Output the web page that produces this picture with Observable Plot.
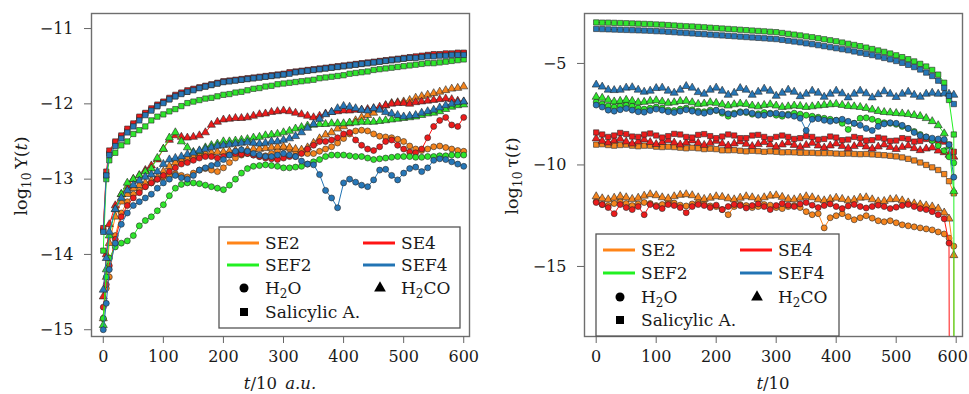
<!DOCTYPE html>
<html><head><meta charset="utf-8">
<script src="https://cdn.jsdelivr.net/npm/d3@7"></script>
<script src="https://cdn.jsdelivr.net/npm/@observablehq/plot@0.6"></script>
<style>
body{margin:0;background:#fff;}
#wrap{display:flex;width:969px;height:394px;overflow:hidden;}
svg text{font-family:"DejaVu Serif",serif;}
</style></head><body><div id="wrap"></div>
<script>
// ---------- categories / ticks ----------
const methods = ["SE2","SE4","SEF2","SEF4"];
const molecules = ["H2O","H2CO","Sal"];
const xTicks = [0,100,200,300,400,500,600];
const yTicksL = [-15,-14,-13,-12,-11];
const yTicksR = [-15,-10,-5];
const OFF = -40; // log10 of vanishing value (lines running off the bottom)

// time grids
const tL = [0,5,10,20,30,40,50,60,70,80,
  90,100,110,120,130,140,150,160,170,180,
  190,200,210,220,230,240,250,260,270,280,
  290,300,310,320,330,340,350,360,370,380,
  390,400,410,420,430,440,450,460,470,480,
  490,500,510,520,530,540,550,560,570,580,
  590,600];
const tR = [0,10,20,30,40,50,60,70,80,90,
  100,110,120,130,140,150,160,170,180,190,
  200,210,220,230,240,250,260,270,280,290,
  300,310,320,330,340,350,360,370,380,390,
  400,410,420,430,440,450,460,470,480,490,
  500,510,520,530,540,550,560,570,580,588,596];

// ---------- LEFT panel: log10 Upsilon(t) ----------
const L_SE2_H2O = [-14.85,-14.45,-14.3,-13.75,-13.45,-13.3,-13.2,-13.15,-13.1,-13.05,
  -13.0,-12.97,-12.95,-12.93,-12.95,-12.97,-12.92,-12.88,-12.86,-12.88,
  -12.9,-12.85,-12.78,-12.72,-12.68,-12.66,-12.68,-12.7,-12.69,-12.66,
  -12.62,-12.58,-12.6,-12.63,-12.65,-12.66,-12.66,-12.63,-12.6,-12.57,
  -12.52,-12.46,-12.4,-12.36,-12.35,-12.36,-12.4,-12.43,-12.44,-12.45,
  -12.47,-12.5,-12.56,-12.6,-12.62,-12.6,-12.57,-12.56,-12.58,-12.6,
  -12.62,-12.63];
const L_SE2_H2CO = [-14.85,-14.3,-13.85,-13.5,-13.3,-13.2,-13.12,-13.08,-13.05,-13.02,
  -12.98,-12.9,-12.83,-12.78,-12.74,-12.72,-12.7,-12.68,-12.66,-12.65,
  -12.64,-12.64,-12.63,-12.62,-12.62,-12.61,-12.6,-12.6,-12.59,-12.58,
  -12.57,-12.57,-12.58,-12.6,-12.61,-12.58,-12.52,-12.46,-12.41,-12.38,
  -12.33,-12.3,-12.26,-12.22,-12.18,-12.15,-12.12,-12.07,-12.02,-11.99,
  -11.98,-11.97,-11.95,-11.92,-11.9,-11.88,-11.86,-11.84,-11.82,-11.8,
  -11.79,-11.77];
const L_SE2_Sal = [-13.68,-12.95,-12.66,-12.52,-12.44,-12.36,-12.28,-12.19,-12.13,-12.08,
  -12.03,-11.98,-11.94,-11.9,-11.86,-11.84,-11.81,-11.79,-11.77,-11.75,
  -11.73,-11.71,-11.7,-11.69,-11.68,-11.67,-11.66,-11.65,-11.64,-11.63,
  -11.62,-11.61,-11.59,-11.58,-11.57,-11.56,-11.55,-11.54,-11.53,-11.52,
  -11.51,-11.5,-11.49,-11.48,-11.47,-11.46,-11.45,-11.44,-11.43,-11.42,
  -11.41,-11.4,-11.39,-11.38,-11.37,-11.36,-11.35,-11.35,-11.34,-11.34,
  -11.33,-11.33];
const L_SE4_H2O = [-14.7,-14.4,-14.15,-13.8,-13.5,-13.35,-13.25,-13.18,-13.1,-13.05,
  -13.0,-12.95,-12.9,-12.85,-12.8,-12.78,-12.75,-12.72,-12.7,-12.7,
  -12.72,-12.7,-12.68,-12.66,-12.67,-12.66,-12.68,-12.7,-12.72,-12.73,
  -12.74,-12.72,-12.7,-12.7,-12.66,-12.6,-12.55,-12.5,-12.5,-12.48,
  -12.45,-12.4,-12.38,-12.48,-12.55,-12.6,-12.62,-12.57,-12.5,-12.48,
  -12.55,-12.6,-12.64,-12.65,-12.6,-12.45,-12.3,-12.22,-12.18,-12.28,
  -12.3,-12.18];
const L_SE4_H2CO = [-14.56,-14.0,-13.6,-13.35,-13.2,-13.1,-13.0,-12.95,-12.88,-12.82,
  -12.74,-12.6,-12.48,-12.42,-12.44,-12.45,-12.44,-12.42,-12.38,-12.28,
  -12.24,-12.21,-12.2,-12.19,-12.19,-12.18,-12.16,-12.14,-12.13,-12.11,
  -12.1,-12.09,-12.1,-12.12,-12.14,-12.16,-12.18,-12.16,-12.13,-12.11,
  -12.1,-12.09,-12.09,-12.08,-12.08,-12.07,-12.06,-12.04,-12.02,-12.0,
  -11.99,-11.99,-12.0,-11.98,-11.97,-11.96,-11.95,-11.94,-11.93,-11.94,
  -11.96,-11.97];
const L_SE4_Sal = [-13.65,-12.9,-12.62,-12.5,-12.42,-12.33,-12.26,-12.17,-12.12,-12.06,
  -12.01,-11.97,-11.92,-11.88,-11.85,-11.82,-11.8,-11.78,-11.76,-11.74,
  -11.72,-11.7,-11.69,-11.68,-11.67,-11.66,-11.65,-11.64,-11.63,-11.62,
  -11.61,-11.6,-11.58,-11.57,-11.56,-11.55,-11.54,-11.53,-11.52,-11.51,
  -11.5,-11.49,-11.48,-11.47,-11.46,-11.45,-11.44,-11.43,-11.42,-11.41,
  -11.4,-11.39,-11.38,-11.37,-11.36,-11.35,-11.34,-11.34,-11.33,-11.33,
  -11.32,-11.32];
const L_SEF2_H2O = [-14.85,-14.3,-14.05,-13.9,-13.85,-13.82,-13.75,-13.62,-13.55,-13.5,
  -13.42,-13.34,-13.22,-13.12,-13.07,-13.05,-13.05,-13.06,-13.08,-13.1,
  -13.12,-13.14,-13.08,-13.0,-12.92,-12.86,-12.83,-12.82,-12.81,-12.82,
  -12.83,-12.85,-12.85,-12.84,-12.83,-12.8,-12.77,-12.74,-12.7,-12.68,
  -12.68,-12.68,-12.69,-12.7,-12.7,-12.72,-12.74,-12.73,-12.72,-12.71,
  -12.7,-12.7,-12.7,-12.71,-12.71,-12.7,-12.7,-12.69,-12.69,-12.68,
  -12.68,-12.68];
const L_SEF2_H2CO = [-14.94,-14.2,-13.75,-13.4,-13.2,-13.05,-13.0,-12.95,-12.9,-12.86,
  -12.72,-12.6,-12.45,-12.38,-12.5,-12.58,-12.64,-12.63,-12.58,-12.55,
  -12.53,-12.5,-12.5,-12.49,-12.48,-12.47,-12.45,-12.44,-12.42,-12.41,
  -12.4,-12.38,-12.36,-12.33,-12.31,-12.29,-12.28,-12.27,-12.27,-12.26,
  -12.26,-12.26,-12.25,-12.25,-12.24,-12.24,-12.24,-12.23,-12.22,-12.21,
  -12.2,-12.19,-12.18,-12.17,-12.15,-12.13,-12.12,-12.1,-12.07,-12.04,
  -12.02,-12.01];
const L_SEF2_Sal = [-13.95,-13.0,-12.75,-12.65,-12.55,-12.5,-12.4,-12.35,-12.3,-12.22,
  -12.17,-12.14,-12.1,-12.07,-12.03,-11.99,-11.97,-11.95,-11.93,-11.92,
  -11.9,-11.88,-11.87,-11.85,-11.84,-11.82,-11.8,-11.79,-11.77,-11.76,
  -11.74,-11.73,-11.72,-11.71,-11.7,-11.69,-11.68,-11.66,-11.65,-11.64,
  -11.63,-11.62,-11.6,-11.59,-11.58,-11.57,-11.55,-11.54,-11.53,-11.52,
  -11.51,-11.5,-11.49,-11.48,-11.47,-11.46,-11.46,-11.45,-11.44,-11.43,
  -11.42,-11.41];
const L_SEF4_H2O = [-15.0,-14.65,-14.2,-13.85,-13.6,-13.45,-13.35,-13.3,-13.25,-13.2,
  -13.12,-13.05,-13.0,-12.95,-12.98,-13.0,-12.95,-12.88,-12.85,-12.82,
  -12.8,-12.74,-12.68,-12.63,-12.61,-12.63,-12.66,-12.68,-12.7,-12.7,
  -12.68,-12.66,-12.68,-12.7,-12.76,-12.8,-12.81,-12.94,-13.15,-13.25,
  -13.38,-13.05,-13.0,-13.04,-13.08,-13.1,-13.01,-12.88,-12.87,-12.95,
  -13.01,-12.92,-12.86,-12.84,-12.9,-12.85,-12.75,-12.73,-12.74,-12.77,
  -12.8,-12.83];
const L_SEF4_H2CO = [-14.47,-14.05,-13.7,-13.4,-13.25,-13.15,-13.08,-13.02,-12.97,-12.94,
  -12.9,-12.8,-12.74,-12.72,-12.7,-12.67,-12.65,-12.62,-12.6,-12.58,
  -12.56,-12.55,-12.54,-12.53,-12.52,-12.51,-12.52,-12.53,-12.52,-12.5,
  -12.5,-12.48,-12.46,-12.43,-12.38,-12.32,-12.27,-12.2,-12.14,-12.11,
  -12.06,-12.03,-12.04,-12.06,-12.08,-12.09,-12.06,-12.08,-12.11,-12.13,
  -12.15,-12.17,-12.16,-12.15,-12.12,-12.1,-12.08,-12.05,-12.02,-12.0,
  -11.98,-11.97];
const L_SEF4_Sal = [-13.7,-12.95,-12.68,-12.56,-12.46,-12.38,-12.3,-12.22,-12.15,-12.09,
  -12.03,-11.99,-11.94,-11.9,-11.87,-11.84,-11.82,-11.79,-11.77,-11.75,
  -11.73,-11.71,-11.7,-11.69,-11.68,-11.67,-11.66,-11.65,-11.64,-11.63,
  -11.62,-11.61,-11.6,-11.58,-11.57,-11.56,-11.55,-11.54,-11.53,-11.52,
  -11.51,-11.5,-11.49,-11.48,-11.47,-11.46,-11.45,-11.44,-11.43,-11.42,
  -11.41,-11.4,-11.39,-11.39,-11.38,-11.37,-11.37,-11.36,-11.36,-11.35,
  -11.35,-11.35];

// ---------- RIGHT panel: log10 tau(t) ----------
const R_SE2_H2O = [-11.8,-11.95,-12.0,-11.9,-11.82,-11.9,-12.0,-11.92,-11.85,-11.9,
  -12.0,-11.95,-11.85,-11.88,-11.98,-12.02,-11.92,-11.85,-11.92,-12.02,
  -12.05,-12.2,-12.45,-12.05,-11.95,-12.0,-12.1,-12.05,-11.95,-11.98,
  -12.1,-12.15,-12.05,-12.0,-12.1,-12.3,-12.45,-12.4,-13.1,-12.6,
  -12.5,-12.4,-12.55,-12.7,-12.6,-12.5,-12.62,-12.75,-12.8,-12.75,
  -12.85,-12.95,-13.0,-13.05,-13.1,-13.15,-13.2,-13.3,-13.4,-13.6,-14.0];
const R_SE2_H2CO = [-11.55,-11.65,-11.7,-11.62,-11.55,-11.6,-11.68,-11.62,-11.52,-11.45,
  -11.5,-11.6,-11.65,-11.55,-11.48,-11.45,-11.5,-11.6,-11.68,-11.62,
  -11.55,-11.58,-11.65,-11.7,-11.62,-11.55,-11.6,-11.68,-11.6,-11.52,
  -11.5,-11.58,-11.68,-11.7,-11.62,-11.55,-11.6,-11.7,-11.75,-11.68,
  -11.62,-11.68,-11.75,-11.72,-11.62,-11.6,-11.7,-11.8,-11.78,-11.7,
  -11.68,-11.75,-11.85,-11.9,-11.95,-12.0,-12.05,-12.15,-12.35,-12.65,-14.45];
const R_SE2_Sal = [-9.0,-8.98,-9.02,-9.05,-9.02,-9.0,-9.05,-9.08,-9.05,-9.05,
  -9.1,-9.12,-9.1,-9.12,-9.15,-9.18,-9.15,-9.18,-9.22,-9.2,
  -9.22,-9.28,-9.28,-9.27,-9.3,-9.33,-9.3,-9.32,-9.35,-9.33,
  -9.35,-9.38,-9.37,-9.38,-9.4,-9.4,-9.4,-9.42,-9.42,-9.42,
  -9.44,-9.45,-9.44,-9.46,-9.47,-9.46,-9.48,-9.5,-9.52,-9.55,
  -9.58,-9.63,-9.7,-9.78,-9.88,-10.0,-10.12,-10.25,-10.45,-10.8,-11.4];
const R_SE4_H2O = [-11.85,-11.95,-12.1,-12.4,-11.95,-12.1,-12.2,-12.05,-12.45,-11.95,
  -12.05,-12.15,-11.95,-12.0,-12.1,-12.35,-12.05,-11.95,-12.0,-12.1,
  -11.98,-12.2,-12.05,-11.95,-12.0,-12.12,-12.0,-11.92,-12.05,-12.2,
  -12.0,-11.9,-11.98,-12.05,-11.92,-11.85,-11.98,-12.1,-12.0,-11.92,
  -12.05,-12.15,-12.02,-11.95,-12.05,-12.12,-12.05,-11.98,-12.05,-12.15,
  -12.08,-12.0,-11.95,-12.05,-12.15,-12.2,-12.3,-12.45,-12.65,-13.85,null];
const R_SE4_H2CO = [-8.7,-8.82,-8.9,-8.8,-8.72,-8.85,-8.95,-8.85,-8.75,-8.88,
  -8.98,-8.88,-8.78,-8.9,-9.0,-8.9,-8.8,-8.92,-9.02,-8.92,
  -8.82,-8.95,-9.05,-8.95,-8.85,-8.97,-9.08,-8.98,-8.88,-9.0,
  -9.1,-9.0,-8.9,-9.02,-9.12,-9.02,-8.92,-9.05,-9.15,-9.05,
  -8.95,-9.08,-9.18,-9.08,-8.98,-9.1,-9.2,-9.1,-9.0,-9.12,
  -9.22,-9.12,-9.05,-9.18,-9.28,-9.2,-9.15,-9.3,-9.38,-9.5,-9.6];
const R_SE4_Sal = [-8.4,-8.5,-8.62,-8.55,-8.42,-8.48,-8.6,-8.62,-8.5,-8.45,
  -8.55,-8.65,-8.58,-8.47,-8.5,-8.62,-8.65,-8.52,-8.48,-8.58,
  -8.68,-8.6,-8.5,-8.55,-8.68,-8.68,-8.55,-8.52,-8.62,-8.72,
  -8.62,-8.55,-8.62,-8.72,-8.68,-8.58,-8.62,-8.75,-8.72,-8.6,
  -8.65,-8.78,-8.75,-8.62,-8.68,-8.8,-8.78,-8.65,-8.7,-8.82,
  -8.8,-8.68,-8.72,-8.85,-8.82,-8.72,-8.78,-8.9,-8.85,-9.0,-9.35];
const R_SEF2_H2O = [-6.9,-7.0,-7.1,-7.15,-7.1,-7.05,-7.1,-7.2,-7.25,-7.2,
  -7.15,-7.2,-7.3,-7.32,-7.25,-7.2,-7.28,-7.35,-7.38,-7.3,
  -7.32,-7.45,-7.6,-7.45,-7.38,-7.42,-7.5,-7.48,-7.42,-7.45,
  -7.55,-7.6,-7.5,-7.45,-7.5,-7.55,-7.6,-7.65,-7.7,-7.75,
  -7.8,-7.95,-8.25,-7.95,-7.7,-7.68,-7.75,-7.85,-7.92,-7.95,
  -8.0,-8.1,-8.2,-8.35,-8.5,-8.62,-8.8,-9.05,-9.3,-9.6,-9.9];
const R_SEF2_H2CO = [-6.65,-6.7,-6.8,-6.88,-6.85,-6.8,-6.85,-6.92,-6.9,-6.85,
  -6.82,-6.88,-6.95,-6.92,-6.86,-6.85,-6.92,-7.0,-6.98,-6.92,
  -6.95,-7.02,-7.08,-7.02,-6.98,-7.0,-7.08,-7.12,-7.05,-7.02,
  -7.08,-7.15,-7.12,-7.08,-7.1,-7.15,-7.12,-7.08,-7.05,-7.02,
  -7.0,-7.05,-7.1,-7.12,-7.15,-7.2,-7.28,-7.35,-7.4,-7.42,
  -7.45,-7.47,-7.5,-7.55,-7.6,-7.7,-7.85,-8.05,-8.45,-9.1,-11.3];
const R_SEF2_Sal = [-2.98,-2.99,-2.99,-3.0,-3.01,-3.02,-3.03,-3.04,-3.05,-3.06,
  -3.08,-3.09,-3.11,-3.13,-3.15,-3.17,-3.18,-3.2,-3.22,-3.24,
  -3.26,-3.28,-3.3,-3.32,-3.34,-3.36,-3.38,-3.4,-3.42,-3.44,
  -3.46,-3.5,-3.54,-3.58,-3.62,-3.67,-3.71,-3.76,-3.81,-3.86,
  -3.91,-3.97,-4.03,-4.09,-4.15,-4.22,-4.29,-4.36,-4.43,-4.51,
  -4.6,-4.69,-4.79,-4.9,-5.02,-5.15,-5.32,-5.55,-5.95,-6.8,-8.5];
const R_SEF4_H2O = [-7.05,-7.15,-7.3,-7.35,-7.28,-7.22,-7.3,-7.38,-7.4,-7.32,
  -7.25,-7.3,-7.38,-7.42,-7.35,-7.28,-7.35,-7.42,-7.45,-7.38,
  -7.3,-7.38,-7.48,-7.5,-7.42,-7.38,-7.45,-7.55,-7.55,-7.48,
  -7.45,-7.5,-7.55,-7.6,-7.7,-8.3,-7.75,-7.72,-7.8,-7.85,
  -7.8,-7.75,-7.85,-7.95,-8.05,-8.2,-8.3,-8.1,-7.98,-7.92,
  -7.95,-8.05,-8.2,-8.4,-8.55,-8.62,-8.68,-8.72,-8.75,-9.0,-10.6];
const R_SEF4_H2CO = [-6.05,-6.15,-6.3,-6.32,-6.3,-6.2,-6.18,-6.3,-6.4,-6.35,
  -6.22,-6.2,-6.35,-6.45,-6.3,-6.12,-6.2,-6.42,-6.5,-6.3,
  -6.2,-6.35,-6.55,-6.45,-6.22,-6.3,-6.55,-6.4,-6.25,-6.35,
  -6.6,-6.45,-6.3,-6.4,-6.62,-6.5,-6.35,-6.45,-6.65,-6.5,
  -6.35,-6.48,-6.68,-6.5,-6.35,-6.48,-6.68,-6.52,-6.38,-6.5,
  -6.66,-6.5,-6.4,-6.55,-6.65,-6.5,-6.45,-6.5,-6.48,-6.5,-6.55];
const R_SEF4_Sal = [-3.3,-3.31,-3.32,-3.33,-3.34,-3.35,-3.36,-3.37,-3.38,-3.39,
  -3.41,-3.42,-3.44,-3.46,-3.48,-3.5,-3.52,-3.54,-3.56,-3.58,
  -3.6,-3.62,-3.64,-3.66,-3.68,-3.7,-3.72,-3.74,-3.76,-3.78,
  -3.8,-3.84,-3.88,-3.92,-3.96,-4.01,-4.05,-4.1,-4.15,-4.2,
  -4.25,-4.3,-4.35,-4.41,-4.47,-4.53,-4.59,-4.66,-4.73,-4.8,
  -4.88,-4.97,-5.07,-5.18,-5.3,-5.45,-5.62,-5.85,-6.2,-6.6,-7.0];
// times at which some right-panel curves fall off the bottom
const R_drops = {"SE4|H2O":590, "SE2|H2O":596, "SEF2|Sal":597};

// ---------- styling ----------
const colors = {SE2:"#f5841d", SE4:"#ec1b1b", SEF2:"#2ee62b", SEF4:"#2677b8"};
const lineColors = {SE2:"#ff8418", SE4:"#ff1414", SEF2:"#22f022", SEF4:"#2274b4"};
const symbols = {H2O:"circle", H2CO:"triangle", Sal:"square"};

const Lseries = {
  SE2:{H2O:L_SE2_H2O,H2CO:L_SE2_H2CO,Sal:L_SE2_Sal},
  SE4:{H2O:L_SE4_H2O,H2CO:L_SE4_H2CO,Sal:L_SE4_Sal},
  SEF2:{H2O:L_SEF2_H2O,H2CO:L_SEF2_H2CO,Sal:L_SEF2_Sal},
  SEF4:{H2O:L_SEF4_H2O,H2CO:L_SEF4_H2CO,Sal:L_SEF4_Sal}};
const Rseries = {
  SE2:{H2O:R_SE2_H2O,H2CO:R_SE2_H2CO,Sal:R_SE2_Sal},
  SE4:{H2O:R_SE4_H2O,H2CO:R_SE4_H2CO,Sal:R_SE4_Sal},
  SEF2:{H2O:R_SEF2_H2O,H2CO:R_SEF2_H2CO,Sal:R_SEF2_Sal},
  SEF4:{H2O:R_SEF4_H2O,H2CO:R_SEF4_H2CO,Sal:R_SEF4_Sal}};

function seriesMarks(t, series, drops){
  const marks = [];
  for (const m of methods) for (const mol of molecules){
    const vals = series[m][mol];
    const pts = t.map((x,i)=>({t:x, v:vals[i]})).filter(d=>d.v!=null);
    const linePts = pts.slice();
    const dt = drops ? drops[m+"|"+mol] : undefined;
    if (dt!==undefined) linePts.push({t:dt, v:OFF});
    marks.push(Plot.line(linePts,{x:"t",y:"v",stroke:lineColors[m],strokeWidth:1,clip:true}));
    marks.push(Plot.dot(pts,{x:"t",y:"v",symbol:symbols[mol],r:3.0,fill:colors[m],stroke:"#262626",strokeWidth:0.6,clip:true}));
  }
  return marks;
}

const fmtInt = d3.format("d");

function makePanel(o){
  const svg = Plot.plot({
    width:o.width, height:394,
    marginLeft:o.ml, marginRight:o.mr, marginTop:13, marginBottom:58,
    x:{domain:o.xd}, y:{domain:o.yd},
    style:{fontFamily:"DejaVu Serif, serif", fontSize:"16px", color:"#1a1a1a", background:"white", overflow:"visible"},
    marks:[
      ...seriesMarks(o.t, o.series, o.drops),
      Plot.frame({stroke:"#6e6e6e", strokeWidth:1.4}),
      Plot.axisX({ticks:xTicks, tickSize:7, tickPadding:7, label:null, stroke:"#666", fill:"#1a1a1a", fontSize:16, tickFormat:fmtInt}),
      Plot.axisY({ticks:o.yTicks, tickSize:7, tickPadding:11, label:null, stroke:"#666", fill:"#1a1a1a", fontSize:16, tickFormat:fmtInt})
    ]
  });
  const s = d3.select(svg);
  // force tick-label size
  s.selectAll('g[aria-label="x-axis tick label"], g[aria-label="y-axis tick label"]').style("font-size","16px");
  s.selectAll('g[aria-label="x-axis tick label"] text, g[aria-label="y-axis tick label"] text').style("font-size","16px");
  if (o.nudgeLast) {
    const xt = s.selectAll('g[aria-label="x-axis tick label"] text').nodes();
    if (xt.length) d3.select(xt[xt.length-1]).attr("dx", o.nudgeLast);
  }
  // y label
  const yl = s.append("text").attr("transform",`translate(${o.ylx},176) rotate(-90)`)
    .attr("text-anchor","middle").attr("dy","0.35em").attr("font-size",17.5).attr("fill","#1a1a1a");
  yl.append("tspan").text("log");
  yl.append("tspan").attr("font-size",12.5).attr("dy","4").text("10");
  yl.append("tspan").attr("dy","-4").text("\u2009" + o.ysym + "(");
  yl.append("tspan").attr("font-style","italic").text("t");
  yl.append("tspan").text(")");
  // x label
  const xl = s.append("text").attr("x",o.xlx).attr("y",383).attr("text-anchor","middle")
    .attr("dy","0.35em").attr("font-size",16.5).attr("fill","#1a1a1a");
  xl.append("tspan").attr("font-style","italic").text("t");
  xl.append("tspan").text("/10");
  if (o.xunit) xl.append("tspan").attr("font-style","italic").text("\u2002" + o.xunit);
  // legend
  const L = o.leg, g = s.append("g").attr("font-size",17).attr("fill","#1a1a1a").attr("text-anchor","start");
  g.append("rect").attr("x",L.x).attr("y",L.y).attr("width",L.w).attr("height",L.h)
    .attr("fill","white").attr("stroke","#555").attr("stroke-width",1.3);
  const lineItems = [["SE2",0,0],["SE4",1,0],["SEF2",0,1],["SEF4",1,1]];
  for (const [m,c,r] of lineItems){
    const sx = L.sw[c], y = L.rows[r];
    g.append("line").attr("x1",sx).attr("x2",sx+32).attr("y1",y).attr("y2",y)
      .attr("stroke",lineColors[m]).attr("stroke-width",3);
    g.append("text").attr("x",sx+38).attr("y",y).attr("dy","0.36em").attr("text-anchor","start").text(m);
  }
  const symItems = [["H2O",d3.symbolCircle,0,2],["H2CO",d3.symbolTriangle,1,2],["Sal",d3.symbolSquare,0,3]];
  for (const [mol,sym,c,r] of symItems){
    const sx = L.sw[c], y = L.rows[r];
    g.append("path").attr("d",d3.symbol().type(sym).size(sym===d3.symbolTriangle?60:64)())
      .attr("transform",`translate(${sx+17},${y})`).attr("fill","black");
    const tx = g.append("text").attr("x",sx+38).attr("y",y).attr("dy","0.36em").attr("text-anchor","start");
    if (mol==="Sal") tx.text("Salicylic A.");
    else {
      tx.append("tspan").text("H");
      tx.append("tspan").attr("font-size",12).attr("dy",4).text("2");
      tx.append("tspan").attr("dy",-4).text(mol==="H2O"?"O":"CO");
    }
  }
  return svg;
}

const wrap = document.getElementById("wrap");
wrap.appendChild(makePanel({
  width:480, ml:91, mr:11, xd:[-19.6,609.6], yd:[-15.09,-10.80],
  t:tL, series:Lseries, drops:null, yTicks:yTicksL,
  ysym:"\u03A5", ylx:21, xlx:280, xunit:"a.u.", nudgeLast:0,
  leg:{x:219,y:227,w:241,h:101,sw:[227,363],rows:[243,265,288,312]}
}));
wrap.appendChild(makePanel({
  width:489, ml:104, mr:7, xd:[-19.5,610.5], yd:[-18.45,-2.54],
  t:tR, series:Rseries, drops:R_drops, yTicks:yTicksR,
  ysym:"\u03C4", ylx:32, xlx:293, xunit:null, nudgeLast:-3.5,
  leg:{x:116,y:234,w:243,h:102,sw:[123,260],rows:[250,273,297,320]}
}));
</script>
</body></html>
